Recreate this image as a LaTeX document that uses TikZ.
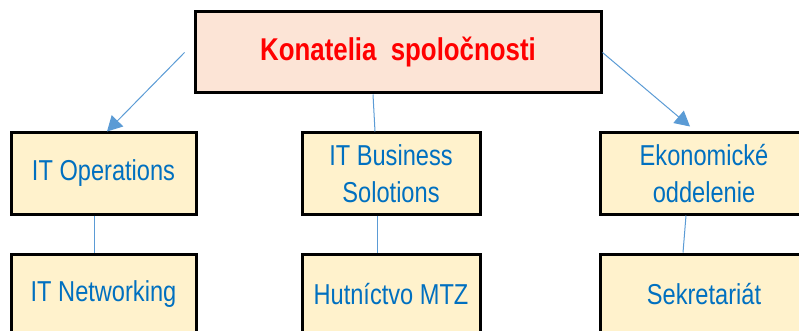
\documentclass[tikz,border=0pt]{standalone}
\usepackage{fontspec}
\setmainfont{Liberation Sans}[FakeStretch=0.82]
\usepackage{xcolor}
\definecolor{HeadPink}{HTML}{FCE4D6}
\definecolor{UnitYellow}{HTML}{FFF2CC}
\definecolor{UnitBlue}{HTML}{0070C0}
\definecolor{HeadRed}{HTML}{FF0000}
\definecolor{LinkBlue}{HTML}{5B9BD5}
\usetikzlibrary{arrows.meta, positioning, calc}
\tikzset{
  % Box styles
  headbox/.style={rectangle, draw=black, line width=3pt, fill=HeadPink, text=HeadRed, minimum width=406pt, minimum height=81pt, font=\fontsize{31.5}{36}\selectfont\bfseries, align=center},
  unitbox/.style={rectangle, draw=black, line width=3pt, fill=UnitYellow, text=UnitBlue, minimum height=81pt, font=\fontsize{28.8}{37}\selectfont, align=center, inner sep=0pt},
  % Arrow styles
  arrow/.style={-{Triangle[length=15pt, width=16pt]}, line width=1pt, LinkBlue},
  link/.style={line width=1pt, LinkBlue}
}

\begin{document}
\begin{tikzpicture}[x=1pt, y=-1pt]
  \useasboundingbox (0,0) rectangle (799,331);

  % Header
  \node[headbox] (head) at (398,52.5) {Konatelia\ \ spoločnosti};

  % Departments
  \node[unitbox, minimum width=185pt] (ops) at (103.5,173.5) {IT Operations};
  \node[unitbox, minimum width=178pt] (biz) at (391,173.5) {IT Business\\Solotions};
  \node[unitbox, minimum width=208pt] (eko) at (704,173.5) {Ekonomické\\oddelenie};

  % Sections
  \node[unitbox, minimum width=185pt] (net) at (103.5,294.5) {IT Networking};
  \node[unitbox, minimum width=178pt] (hut) at (391,294.5) {Hutníctvo MTZ};
  \node[unitbox, minimum width=208pt] (sek) at (704,294.5) {Sekretariát};

  % Links
  \draw[arrow] ([xshift=-9pt]head.west) -- ([xshift=3.5pt]ops.north);
  \draw[link] ([xshift=-25pt]head.south) -- ([xshift=-16pt]biz.north);
  \draw[arrow] (head.east) -- ([xshift=-14pt, yshift=5pt]eko.north);
  \draw[link] ([xshift=-9.5pt]ops.south) -- ([xshift=-9.5pt]net.north);
  \draw[link] ([xshift=-14pt]biz.south) -- ([xshift=-14pt]hut.north);
  \draw[link] ([xshift=-18pt]eko.south) -- ([xshift=-21pt]sek.north);
\end{tikzpicture}
\end{document}
